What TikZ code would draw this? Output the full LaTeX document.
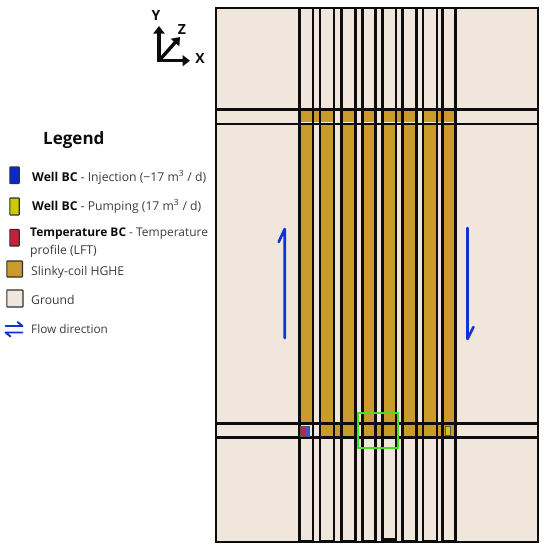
\documentclass[tikz,border=0pt]{standalone}
\usepackage{fontspec}
\setmainfont{Open Sans}
\usetikzlibrary{arrows.meta}
\definecolor{groundc}{HTML}{F0E6DC}
\definecolor{goldc}{HTML}{C89B2B}
\definecolor{linec}{HTML}{0C0C0C}
\definecolor{flowc}{HTML}{1030D8}
\definecolor{txtc}{HTML}{3C3C3C}
\definecolor{greenc}{HTML}{45E020}
\definecolor{wblue}{HTML}{0A28D0}
\definecolor{wyellow}{HTML}{CCCC00}
\definecolor{wred}{HTML}{C8203A}
\newcommand{\bkw}[1]{\textcolor{linec}{\textbf{#1}}}
\tikzset{
  wall/.style={draw=linec,line width=2.7pt},
  swatch/.style={draw=linec!85,line width=1.1pt,rounded corners=0.6pt},
  leg/.style={anchor=base west,inner sep=0pt,text=txtc,font=\fontsize{12.2}{16}\selectfont},
  axis/.style={draw=linec,line width=3.4pt,-{Triangle[width=11pt,length=7.5pt]}},
  axlab/.style={inner sep=0pt,text=linec,font=\fontsize{14}{16}\selectfont\bfseries},
  flow/.style={draw=flowc,line width=2.6pt,line cap=round,line join=round},
}
\begin{document}
\begin{tikzpicture}[x=1pt,y=-1pt]
\useasboundingbox (0,0) rectangle (546,550);
% ground
\fill[groundc] (216,8) rectangle (538,542);
% gold strips, main run
\foreach \a/\b in {299/313,320/334,342/356,362/376,382/396,403/417,423/437,443/455}{
  \fill[goldc] (\a,111) rectangle (\b,122);
  \fill[goldc] (\a,125) rectangle (\b,422);
  \fill[goldc] (\a,425) rectangle (\b,436);
}
% gold in the gaps of the two bands
\foreach \a/\b in {313/320,396/403,437/443}{\fill[goldc] (\a,111) rectangle (\b,122);}
\foreach \a/\b in {334/342,376/382,417/423,437/443}{\fill[goldc] (\a,425) rectangle (\b,436);}
% first strip of the lower band is ground behind the wells
\fill[groundc] (300,425) rectangle (312,436);
% strips
\foreach \a/\b in {299.3/313,320/334,341.7/355.7,362.3/375.7,382.3/396,402.7/416.7,423/437,442.7/455.3}{
  \draw[wall] (\a,8) rectangle (\b,541);
}
\draw[wall,line width=3.5pt] (382.3,540) -- (396,540);
% bands
\draw[wall] (216,109.5) -- (538,109.5);
\draw[wall] (216,124) -- (538,124);
\draw[wall] (216,423.5) -- (538,423.5);
\draw[wall] (216,437.7) -- (538,437.7);
% wells
\fill[wred] (301,427) rectangle (305,435.5);
\fill[wblue!80!white] (305,427) rectangle (309,435.5);
\draw[draw=linec!70,line width=0.8pt] (300.7,426.5) rectangle (309.3,436);
\fill[wyellow] (445,426) rectangle (450.5,435);
\draw[draw=linec!70,line width=0.8pt] (445,426) rectangle (450.5,435);
% outer frame
\draw[draw=linec,line width=2pt] (216,8) rectangle (538,542);
% zoom box
\draw[draw=greenc,line width=2pt] (357.7,413.3) rectangle (398.3,448.3);
% flow arrows
\draw[flow] (284.7,338) -- (284.7,229) -- (278.7,242);
\draw[flow] (467.5,228) -- (467.5,339) -- (473.5,327);
% axes
\coordinate (o) at (159,60.7);
\coordinate (ax) at (190,60.7);
\coordinate (ay) at (159,26);
\coordinate (az) at (180,37);
\draw[axis] (o) -- (ax);
\draw[axis] (o) -- (ay);
\draw[axis] (o) -- (az);
\fill[linec] (157.3,59) rectangle (160.7,62.4);
\node[axlab] (ly) at (156,15) {Y};
\node[axlab] (lz) at (182,29) {Z};
\node[axlab] (lx) at (200,58) {X};
% legend
\node[anchor=base west,inner sep=0pt,text=linec,font=\fontsize{17}{20}\selectfont\bfseries] (title) at (43,144) {Legend};
\draw[swatch,fill=wblue] (9.8,167) rectangle (19.2,183.5);
\draw[swatch,fill=wyellow] (9.8,198) rectangle (19.2,215);
\draw[swatch,fill=wred] (9.8,229.5) rectangle (19.2,246);
\draw[swatch,fill=goldc] (6.8,261) rectangle (22.5,277);
\draw[swatch,fill=groundc] (6.8,290) rectangle (23,307);
\node[leg] (t1) at (32,181) {\bkw{Well BC} - Injection (−17 m\textsuperscript{3} / d)};
\node[leg] (t2) at (32,210) {\bkw{Well BC} - Pumping (17 m\textsuperscript{3} / d)};
\node[leg,font=\fontsize{11.95}{16}\selectfont] (t3) at (30,236.5) {\bkw{Temperature BC} - Temperature};
\node[leg] (t3b) at (30,254) {profile (LFT)};
\node[leg] (t4) at (31,275) {Slinky-coil HGHE};
\node[leg] (t5) at (31,304) {Ground};
\node[leg,font=\fontsize{11.8}{16}\selectfont] (t6) at (31,333) {Flow direction};
\draw[flow,line width=1.9pt] (5.5,326) -- (22.5,326) -- (17.5,322);
\draw[flow,line width=1.9pt] (22.5,332.5) -- (5.5,332.5) -- (10.5,336.5);
\end{tikzpicture}
\end{document}
